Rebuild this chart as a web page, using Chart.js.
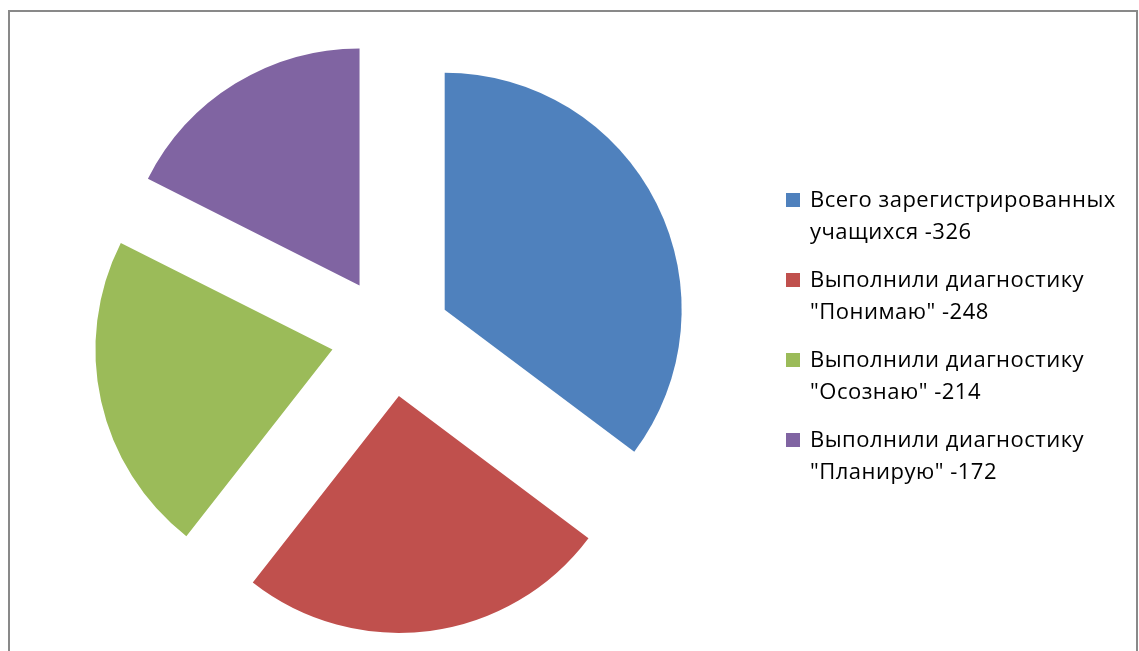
<!DOCTYPE html>
<html lang="ru">
<head>
<meta charset="utf-8">
<title>Диагностика учащихся</title>
<script src="https://cdn.jsdelivr.net/npm/chart.js@4.4.1/dist/chart.umd.min.js"></script>
<style>
    html, body {
        margin: 0;
        padding: 0;
        background: #fff;
        overflow: hidden;
    }
    #wrap {
        position: relative;
        width: 1139px;
        height: 651px;
    }
    #pieChart {
        position: absolute;
        left: 0;
        top: 0;
    }
    #frame {
        position: absolute;
        left: 8px;
        top: 10px;
        width: 1130px;
        height: 700px;
        box-sizing: border-box;
        border: 2px solid #898989;
        border-bottom: none;
        pointer-events: none;
    }
    #legend {
        position: absolute;
        left: 786px;
        top: 182px;
        font-family: "Open Sans", "Noto Sans", sans-serif;
        font-size: 22px;
        letter-spacing: 0.5px;
        line-height: 32px;
        color: #000;
    }
    .legend-item {
        position: relative;
        padding-left: 24px;
        margin-bottom: 16px;
    }
    .legend-box {
        position: absolute;
        left: 0;
        top: 11px;
        width: 14px;
        height: 14px;
    }
</style>
</head>
<body>
<div id="wrap">
    <canvas id="pieChart" width="1139" height="651"></canvas>
    <div id="frame"></div>
    <div id="legend"></div>
</div>
<script>
// legend texts (two lines each, as on the original)
const labels = [
    ['Всего зарегистрированных', 'учащихся -326'],
    ['Выполнили диагностику', '"Понимаю" -248'],
    ['Выполнили диагностику', '"Осознаю" -214'],
    ['Выполнили диагностику', '"Планирую" -172']
];
// slice sizes
const values = [345, 248, 214, 172];
const colors = ['#4F81BD', '#C0504D', '#9BBB59', '#8064A2'];

const EXPLODE = 60;   // distance each slice is pulled out
const RADIUS = 237;

// pull every slice out along its middle angle (like an exploded Excel pie)
const explodePlugin = {
    id: 'explode',
    beforeDatasetDraw(chart, args) {
        const ctx = chart.ctx;
        args.meta.data.forEach(arc => {
            const mid = (arc.startAngle + arc.endAngle) / 2;
            ctx.save();
            ctx.translate(Math.cos(mid) * EXPLODE, Math.sin(mid) * EXPLODE);
            arc.draw(ctx);
            ctx.restore();
        });
        return false;
    }
};

const chart = new Chart(document.getElementById('pieChart'), {
    type: 'pie',
    data: {
        labels: labels,
        datasets: [{
            data: values,
            backgroundColor: colors,
            borderWidth: 0
        }]
    },
    options: {
        responsive: false,
        animation: false,
        radius: RADIUS,
        layout: {
            padding: { left: 0, right: 357, top: 22, bottom: 0 }
        },
        plugins: {
            legend: { display: false },
            tooltip: { enabled: false }
        },
        events: []
    },
    plugins: [explodePlugin]
});

// html legend built from the chart data
function buildLegend(chart) {
    const legend = document.getElementById('legend');
    const ds = chart.data.datasets[0];
    chart.data.labels.forEach((lines, i) => {
        const item = document.createElement('div');
        item.className = 'legend-item';
        const box = document.createElement('span');
        box.className = 'legend-box';
        box.style.background = ds.backgroundColor[i];
        item.appendChild(box);
        lines.forEach(line => {
            const row = document.createElement('div');
            row.textContent = line;
            item.appendChild(row);
        });
        legend.appendChild(item);
    });
}

buildLegend(chart);
</script>
</body>
</html>
